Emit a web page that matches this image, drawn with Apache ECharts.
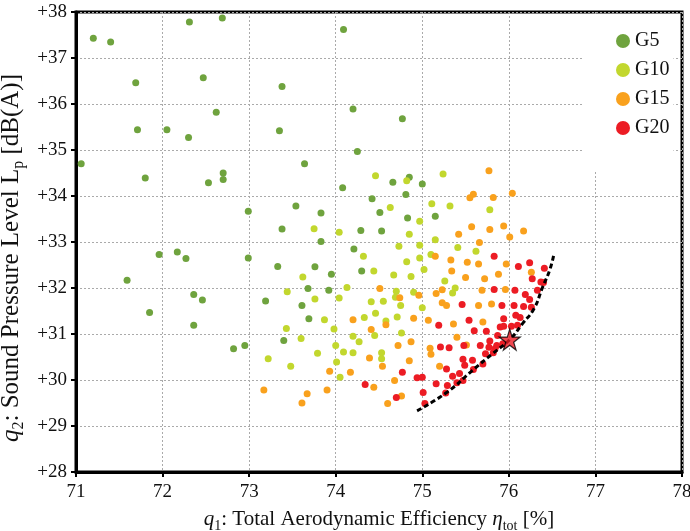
<!DOCTYPE html>
<html>
    <head>
        <meta charset=utf-8>
    </head>
    <body style="margin:0">
        <div id="chart" style="width:690px;height:531px"></div>
        <script src="https://cdn.jsdelivr.net/npm/echarts@6/dist/echarts.min.js"></script>
        <script type="text/javascript">

            var myChart = echarts.init(document.querySelector('#chart'));

            let groupNames = ['G5', 'G10', 'G15', 'G20']
            let groupColors = ['#6fa33e', '#c2d72e', '#f9a11d', '#ec1c24']

            let g5 = [
                [71.06,34.70],[71.20,37.43],[71.40,37.35],[71.69,36.46],[71.71,35.44],[71.80,34.39],[72.05,35.44],
                [72.31,37.78],[72.30,35.27],[72.47,36.57],[72.62,35.82],[72.69,37.87],[72.70,34.50],[72.70,34.36],
                [72.53,34.29],[72.99,33.67],[73.38,36.38],[73.35,35.42],[73.64,34.70],[73.54,33.78],
                [74.09,37.62],[74.20,35.89],[74.77,35.68],[74.25,34.97],[74.08,34.18],[74.66,34.30],[74.85,34.41],
                [75.00,34.26],[73.83,33.63],[74.42,33.94],[74.81,34.03],[74.51,33.64],[74.83,33.52],[75.15,33.56],
                [71.59,32.17],[71.85,31.47],[71.96,32.73],[72.17,32.78],[72.27,32.64],[72.36,31.86],[72.46,31.74],
                [72.36,31.19],[72.82,30.68],[72.95,30.75],[72.99,32.65],[73.38,33.28],[73.33,32.47],[73.68,31.99],
                [73.19,31.72],[73.61,31.62],[73.69,31.33],[73.40,30.86],
                [74.29,33.25],[74.53,33.24],[73.83,33.01],[74.21,32.85],[73.76,32.46],[73.95,32.30],[74.30,32.37],[73.92,31.95]
            ]
            let g10 = [
                [74.46,34.44],[74.82,34.33],[75.24,34.48],[74.63,33.75],[75.11,33.83],[75.32,33.78],[75.78,33.70],[74.97,33.45],
                [73.62,32.24],[73.44,31.92],[73.43,31.12],[73.60,30.90],[73.22,30.46],[73.48,30.30],
                [73.75,33.29],[74.04,33.21],[74.85,33.17],[74.73,32.91],[74.97,32.93],[75.15,33.05],[75.41,32.88],[75.62,32.80],
                [74.32,32.69],[74.97,32.65],[75.10,32.73],[74.82,32.57],[74.44,32.37],[74.67,32.28],[74.87,32.25],[75.02,32.40],
                [75.26,32.15],[74.13,32.01],[74.70,31.93],[74.90,31.91],[75.38,32.00],[75.35,31.89],[73.76,31.76],[74.04,31.78],
                [74.41,31.70],[74.55,31.71],[74.69,31.80],[74.75,31.62],[75.00,31.57],[73.87,31.31],[74.33,31.36],[74.46,31.45],
                [74.58,31.28],[74.71,31.37],[73.98,31.11],[74.45,30.97],[74.20,30.95],[74.27,30.83],[74.76,31.02],[74.00,30.75],
                [74.09,30.61],[74.20,30.59],[73.79,30.58],[74.53,30.59],[74.53,30.46],[74.01,30.39],[74.05,30.06]
            ]
            let g15 = [
                [75.77,34.55],[75.59,34.04],[75.55,33.96],[75.82,33.97],[76.04,34.06],
                [73.17,29.78],[73.67,29.70],[73.61,29.50],
                [75.42,33.17],[75.57,33.33],[75.78,33.27],[75.94,33.35],[76.17,33.24],[76.01,33.11],[75.66,32.99],[75.15,32.69],
                [75.33,32.61],[75.52,32.56],[75.65,32.52],[75.97,32.52],[76.26,32.34],[75.34,32.37],[75.50,32.23],[75.72,32.20],
                [75.88,32.30],[74.51,31.99],[74.96,31.84],[75.16,31.88],[75.23,31.96],[75.69,31.95],[75.96,31.97],[74.74,31.79],
                [75.23,31.68],[75.28,31.62],[75.65,31.62],[75.80,31.65],[74.20,31.31],[74.58,31.20],[74.90,31.34],[75.07,31.30],
                [75.36,31.22],[75.70,31.26],[74.41,31.10],[74.72,30.75],[74.87,30.83],[75.09,30.69],[75.10,30.56],[75.40,30.93],
                [75.51,30.76],[74.39,30.48],[74.54,30.30],[74.85,30.42],[73.93,30.19],[74.17,30.17],[74.68,29.99],[75.20,30.30],
                [74.44,29.84],[73.90,29.78],[74.60,29.49],[74.76,29.65]
            ]
            let g20 = [
                [75.83,32.69],[76.24,32.55],[76.11,32.47],[76.27,32.20],[76.37,32.13],[76.33,31.95],[75.83,31.97],[76.07,31.95],
                [76.19,31.86],[76.24,31.75],[75.46,31.64],[75.92,31.62],[76.06,31.62],[76.17,31.60],[76.26,31.58],[76.08,31.41],
                [76.13,31.36],[75.19,31.19],[75.54,31.30],[75.94,31.33],[75.90,31.15],[75.94,31.17],[76.03,31.17],[76.10,31.19],
                [75.21,30.72],[75.31,30.70],[75.48,30.75],[75.60,31.07],[75.67,30.75],[75.74,31.06],[75.78,30.85],[75.77,30.71],
                [75.73,30.57],[75.82,30.59],[75.87,30.97],[75.86,30.75],[75.93,30.79],[75.84,30.68],[74.77,30.17],[74.94,30.05],
                [75.00,30.06],[75.16,29.92],[75.28,30.24],[75.35,30.08],[75.29,29.88],[75.40,29.94],[75.43,30.14],[75.47,29.99],
                [75.49,30.32],[75.47,30.45],[75.58,30.43],[75.59,30.23],[75.70,30.35],[74.34,29.90],[74.70,29.62],[75.01,29.73],
                [75.27,29.72],[75.03,29.49],[76.41,32.43],[76.40,32.12]
            ]

            // pareto front (dashed) and the chosen design (star)
            let frontX = [74.94, 75.29, 75.58, 75.81, 76.01, 76.16, 76.29, 76.39, 76.47, 76.52]
            let frontY = [29.33, 29.74, 30.21, 30.57, 30.88, 31.23, 31.55, 32.02, 32.38, 32.73]
            let star = [76.01, 30.88]

            let xTicks = [71, 72, 73, 74, 75, 76, 77, 78]
            let yTicks = [28, 29, 30, 31, 32, 33, 34, 35, 36, 37, 38]

            let font = 'Liberation Serif'
            let groups = [g5, g10, g15, g20]

            let series = groups.map((d, i) => ({
                name: groupNames[i],
                type: 'scatter',
                data: d,
                symbolSize: 7,
                itemStyle: {color: groupColors[i], opacity: 1},
                z: 3 + i
            }))
            series.push({
                type: 'line',
                data: frontX.map((x, i) => [x, frontY[i]]),
                smooth: true,
                symbol: 'none',
                lineStyle: {color: '#000', width: 3, type: [5, 3]},
                z: 8
            })
            series.push({
                type: 'scatter',
                data: [star],
                symbol: 'path://M50,0 L61,35 L98,35 L68,57 L79,91 L50,70 L21,91 L32,57 L2,35 L39,35 Z',
                symbolSize: 21,
                itemStyle: {color: '#ec1c24', borderColor: '#000', borderWidth: 1.2},
                z: 9
            })

            let option = {
                animation: false,
                backgroundColor: '#fff',
                textStyle: {fontFamily: font, color: '#111'},
                grid: {
                    left: 76, right: 8, top: 12, bottom: 59,
                    containLabel: false,
                    outerBoundsMode: 'none',
                    show: true, borderColor: '#000', borderWidth: 3
                },
                legend: {
                    data: groupNames,
                    orient: 'vertical',
                    left: 582, top: 14,
                    backgroundColor: '#fff',
                    padding: [17, 4, 34, 34],
                    icon: 'circle',
                    itemWidth: 14, itemHeight: 14,
                    itemGap: 9,
                    textStyle: {fontFamily: font, fontSize: 20, color: '#111'}
                },
                xAxis: {
                    type: 'value',
                    min: xTicks[0], max: xTicks[xTicks.length - 1], interval: 1,
                    axisLine: {show: true, lineStyle: {color: '#000', width: 3}},
                    axisTick: {show: true, length: 5, lineStyle: {color: '#000', width: 2}},
                    axisLabel: {fontFamily: font, fontSize: 19, color: '#111', margin: 11},
                    splitLine: {show: true, lineStyle: {color: '#aaa', width: 1, type: [2, 2]}},
                    name: '{i|q}{sub|1}: Total Aerodynamic Efficiency {i|η}{sub|tot} [%]',
                    nameLocation: 'middle',
                    nameGap: 24,
                    nameTextStyle: {
                        fontFamily: font, fontSize: 21, lineHeight: 26, color: '#111',
                        rich: {
                            i: {fontFamily: font, fontSize: 21, lineHeight: 26, fontStyle: 'italic', color: '#111'},
                            sub: {fontFamily: font, fontSize: 14, color: '#111', verticalAlign: 'bottom'}
                        }
                    }
                },
                yAxis: {
                    type: 'value',
                    min: yTicks[0], max: yTicks[yTicks.length - 1], interval: 1,
                    axisLine: {show: true, lineStyle: {color: '#000', width: 3}},
                    axisTick: {show: true, length: 5, lineStyle: {color: '#000', width: 2}},
                    axisLabel: {fontFamily: font, fontSize: 19, color: '#111', margin: 9,
                        formatter: v => '+' + v},
                    splitLine: {show: true, lineStyle: {color: '#aaa', width: 1, type: [2, 2]}},
                    name: '{i|q}{sub|2}: Sound Pressure Level L{sub|p} [dB(A)]',
                    nameLocation: 'middle',
                    nameGap: 43,
                    nameTextStyle: {
                        fontFamily: font, fontSize: 25, lineHeight: 30, color: '#111',
                        padding: [0, 32, 0, 0],
                        rich: {
                            i: {fontFamily: font, fontSize: 25, lineHeight: 30, fontStyle: 'italic', color: '#111'},
                            sub: {fontFamily: font, fontSize: 16, color: '#111', verticalAlign: 'bottom'}
                        }
                    }
                },
                series: series
            }
            myChart.setOption(option);
        </script>
    </body>
</html>
